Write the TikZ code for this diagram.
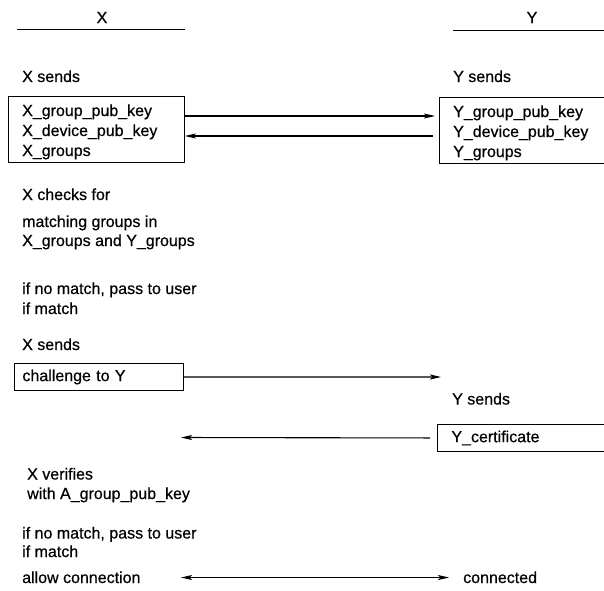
\documentclass[tikz,border=0pt]{standalone}
\usepackage{fontspec}
\setmainfont{Liberation Sans}[FakeBold=0.5]
\usetikzlibrary{arrows.meta}
\begin{document}
\begin{tikzpicture}[x=1pt,y=-1pt,
  txt/.style={anchor=base west, inner sep=0pt, align=left, font=\fontsize{16}{20}\selectfont},
  hdr/.style={anchor=base, inner sep=0pt, font=\fontsize{16}{20}\selectfont},
  box/.style={draw, line width=0.9pt, inner sep=0pt, rectangle},
  tbox/.style={box, anchor=north west, align=left, inner xsep=8pt, minimum height=27pt, font=\fontsize{16}{20}\selectfont},
  hline/.style={line width=0.9pt},
  arr/.style={line width=1.1pt, -{Stealth[length=11pt,width=5pt,inset=2.5pt]}},
  darr/.style={line width=1.1pt, {Stealth[length=11pt,width=5pt,inset=2.5pt]}-{Stealth[length=11pt,width=5pt,inset=2.5pt]}},
]
\useasboundingbox (0,0) rectangle (604,590);
\clip (0,0) rectangle (604,590);

% headers
\node[hdr] (hx) at (102,23) {X};
\node[hdr] (hy) at (532,23) {Y};
\coordinate (hxl) at (17,29);
\coordinate (hxr) at (185,29);
\coordinate (hyl) at (453,30);
\coordinate (hyr) at (610,30);
\draw[hline] (hxl) -- (hxr);
\draw[hline] (hyl) -- (hyr);

% first exchange (multi-line nodes are placed by the baseline of their last line)
\node[txt] (xsend1) at (22,82) {X sends};
\node[txt] (ysend1) at (453,82) {Y sends};
\node[box, anchor=north west, minimum width=176pt, minimum height=66pt] (xbox) at (8,96) {};
\node[txt] (xkeys) at (22,156) {X\_group\_pub\_key\\X\_device\_pub\_key\\X\_groups};
\node[box, anchor=north west, minimum width=190pt, minimum height=66pt] (ybox) at (439,97) {};
\node[txt] (ykeys) at (453,157) {Y\_group\_pub\_key\\Y\_device\_pub\_key\\Y\_groups};
\draw[arr] ([yshift=-20pt]xbox.north east) -- ([xshift=-4pt,yshift=-19pt]ybox.north west);
\draw[arr] ([xshift=-6pt,yshift=-39pt]ybox.north west) -- ([yshift=-40pt]xbox.north east);

% checks
\node[txt] (xchk) at (22,200) {X checks for};
\node[txt, font=\fontsize{16}{19}\selectfont] (xmatch) at (22,246) {matching groups in\\X\_groups and Y\_groups};
\node[txt, font=\fontsize{16}{20}\selectfont] (nomatch1) at (22,314) {if no match, pass to user\\if match};

% challenge
\node[txt] (xsend2) at (22,350) {X sends};
\node[tbox, text width=153pt] (chal) at (14,363) {challenge to Y};
\coordinate (chalend) at (441,377);
\draw[arr] (chal.east) -- (chalend);

% certificate
\node[txt] (ysend2) at (452,404.5) {Y sends};
\node[tbox, text width=200pt, inner xsep=14pt] (cert) at (437,424) {Y\_certificate};
\coordinate (certend) at (181,437.5);
\draw[arr] ([xshift=-7pt]cert.west) -- (certend);

% verify
\node[txt, font=\fontsize{16}{19.5}\selectfont] (xver) at (27,499) {X verifies\\with A\_group\_pub\_key};
\node[txt, font=\fontsize{16}{18.5}\selectfont] (nomatch2) at (22,557) {if no match, pass to user\\if match};
\node[txt] (allow) at (22,583) {allow connection};
\node[txt] (conn) at (463,583) {connected};
\coordinate (dl) at (181,577.5);
\coordinate (dr) at (449,577.5);
\draw[darr] (dl) -- (dr);
\end{tikzpicture}
\end{document}
